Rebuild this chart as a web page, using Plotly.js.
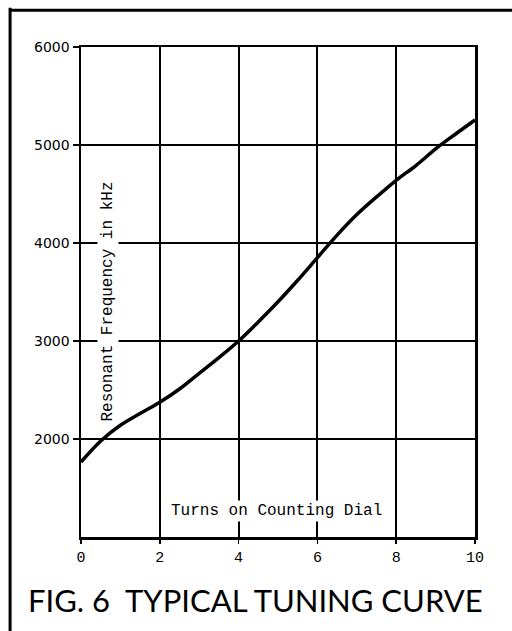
<!DOCTYPE html>
<html><head><meta charset="utf-8">
<script src="https://cdn.plot.ly/plotly-3.0.1.min.js"></script>
<style>html,body{margin:0;padding:0;background:#fff}</style>
</head><body><div id="chart" style="width:512px;height:631px"></div>
<script>
const turns = [0, 0.5, 1, 1.5, 2, 2.5, 3, 3.5, 4, 4.5, 5, 5.5, 6, 6.5, 7, 7.5, 8, 8.5, 9, 9.5, 10];
const freqKHz = [1765, 1980, 2140, 2260, 2375, 2510, 2670, 2830, 3000, 3195, 3400, 3620, 3850, 4080, 4290, 4470, 4640, 4790, 4960, 5110, 5255];
const xTickVals = [0, 2, 4, 6, 8, 10];
const yTickVals = [2000, 3000, 4000, 5000, 6000];
const titleText = "FIG. 6&nbsp;&nbsp;TYPICAL TUNING CURVE";
const xTitle = "Turns on Counting Dial";
const yTitle = "Resonant Frequency in kHz";

const mono = "Liberation Mono, Courier New, monospace";
const trace = {x: turns, y: freqKHz, mode: "lines", line: {color: "#000", width: 3.5, shape: "spline"}, hoverinfo: "skip"};
const layout = {
  width: 512, height: 631,
  margin: {l: 81, r: 37, t: 47, b: 94},
  paper_bgcolor: "#fff", plot_bgcolor: "#fff",
  showlegend: false,
  xaxis: {range: [0, 10], tickvals: xTickVals, ticktext: xTickVals.map(String),
    showgrid: true, gridcolor: "#000", gridwidth: 1.8, zeroline: false,
    showline: true, linecolor: "#000", linewidth: 2.5, mirror: true,
    ticks: "outside", ticklen: 4, tickcolor: "#000", tickwidth: 1.5,
    tickfont: {family: mono, size: 15, color: "#000"}},
  yaxis: {range: [1000, 6000], tickvals: yTickVals, ticktext: yTickVals.map(String),
    showgrid: true, gridcolor: "#000", gridwidth: 1.8, zeroline: false,
    showline: true, linecolor: "#000", linewidth: 2.5, mirror: true,
    ticks: "outside", ticklen: 6, tickcolor: "#000", tickwidth: 1.5,
    tickfont: {family: "DejaVu Sans, sans-serif", size: 14, color: "#000"}},
  annotations: [
    {text: xTitle, xref: "paper", yref: "paper", x: 0.495, y: 0.03, showarrow: false,
     font: {family: mono, size: 16, color: "#000"}, bgcolor: "#fff"},
    {text: yTitle, xref: "paper", yref: "paper", x: 0.04, y: 0.48, textangle: -90, showarrow: false,
     font: {family: mono, size: 16, color: "#000"}, bgcolor: "#fff"},
    {text: titleText, xref: "paper", yref: "paper", x: 0.444, y: -0.128, xanchor: "center", yanchor: "middle",
     showarrow: false, font: {family: "Lato, sans-serif", size: 31, color: "#000"}}
  ],
  shapes: [
    {type: "line", xref: "paper", yref: "paper", x0: -0.18, x1: -0.18, y0: 1.08, y1: -0.2, line: {color: "#000", width: 3}},
    {type: "line", xref: "paper", yref: "paper", x0: -0.18, x1: 1.1, y0: 1.075, y1: 1.075, line: {color: "#000", width: 3}}
  ]
};
Plotly.newPlot("chart", [trace], layout, {displayModeBar: false, staticPlot: true});
</script></body></html>
